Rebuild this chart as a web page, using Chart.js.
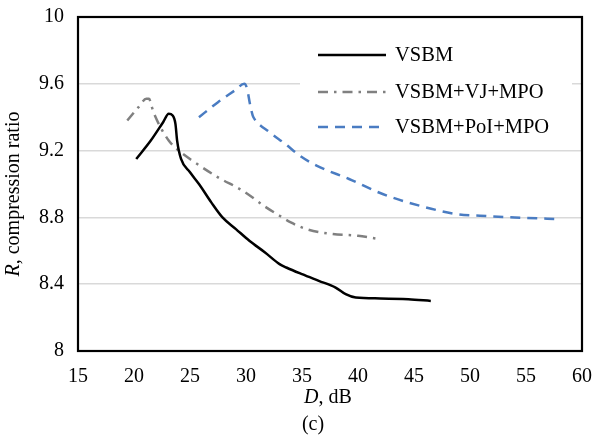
<!DOCTYPE html>
<html>
<head>
<meta charset="utf-8">
<script src="https://cdn.jsdelivr.net/npm/chart.js@4/dist/chart.umd.min.js"></script>
<style>
  html, body { margin: 0; padding: 0; background: #fff; }
  #wrap { width: 594px; height: 439px; position: relative; }
</style>
</head>
<body>
<div id="wrap"><canvas id="chart" width="594" height="439"></canvas></div>
<script>
// values (D in dB, R compression ratio)
const seriesNames = ['VSBM', 'VSBM+VJ+MPO', 'VSBM+PoI+MPO'];

const vsbmD = [20.2, 21.5, 22.6, 23.1, 23.45, 23.7, 23.85, 24.2, 25.0, 25.8, 26.9, 27.9, 29.1, 30.3, 31.7, 33.0, 33.6, 35.0, 36.5, 38.0, 38.9, 39.8, 42.0, 44.5, 46.5];
const vsbmR = [9.15, 9.26, 9.37, 9.42, 9.41, 9.36, 9.26, 9.15, 9.07, 9.0, 8.89, 8.80, 8.73, 8.66, 8.59, 8.52, 8.50, 8.46, 8.42, 8.38, 8.34, 8.32, 8.315, 8.31, 8.30];

const vjD = [19.4, 20.4, 21.1, 21.35, 21.55, 21.8, 23.1, 24.0, 25.2, 27.5, 29.7, 31.8, 33.0, 34.0, 35.4, 37.75, 40.0, 41.9];
const vjR = [9.38, 9.46, 9.51, 9.51, 9.47, 9.42, 9.26, 9.20, 9.14, 9.04, 8.96, 8.86, 8.81, 8.77, 8.73, 8.70, 8.69, 8.67];

const poiD = [25.8, 27.5, 29.0, 29.85, 30.1, 30.35, 30.6, 30.75, 32.1, 33.5, 34.8, 36.3, 39.2, 42.2, 45.5, 48.8, 50.9, 54.0, 57.7];
const poiR = [9.40, 9.49, 9.56, 9.60, 9.57, 9.48, 9.41, 9.39, 9.31, 9.24, 9.17, 9.11, 9.03, 8.94, 8.87, 8.82, 8.81, 8.80, 8.79];

const xTicks = [15, 20, 25, 30, 35, 40, 45, 50, 55, 60];
const yTicks = [8, 8.4, 8.8, 9.2, 9.6, 10];

const toPoints = (xs, ys) => xs.map((x, i) => ({ x: x, y: ys[i] }));

const serif = '"Liberation Serif", "Times New Roman", serif';

// legend inside the plot, drawn from dataset styles
const insideLegend = {
  id: 'insideLegend',
  afterDatasetsDraw(chart) {
    const ctx = chart.ctx;
    ctx.save();
    ctx.fillStyle = '#fff';
    ctx.fillRect(300, 30, 272, 112);
    const rows = [55, 92, 127];
    chart.data.datasets.forEach((ds, i) => {
      ctx.beginPath();
      ctx.strokeStyle = ds.borderColor;
      ctx.lineWidth = ds.borderWidth;
      ctx.setLineDash(ds.borderDash || []);
      ctx.moveTo(318, rows[i]);
      ctx.lineTo(386, rows[i]);
      ctx.stroke();
      ctx.setLineDash([]);
      ctx.fillStyle = '#000';
      ctx.font = '20.5px ' + serif;
      ctx.textBaseline = 'middle';
      ctx.textAlign = 'left';
      ctx.fillText(ds.label, 395, rows[i] + 1);
    });
    ctx.restore();
  }
};

// black frame + axis titles with italic letters
const frameAndTitles = {
  id: 'frameAndTitles',
  afterDraw(chart) {
    const ctx = chart.ctx;
    const a = chart.chartArea;
    ctx.save();
    ctx.strokeStyle = '#000';
    ctx.lineWidth = 2.2;
    ctx.strokeRect(a.left, a.top, a.right - a.left, a.bottom - a.top);

    ctx.fillStyle = '#000';
    ctx.textBaseline = 'middle';

    function mixed(parts, cx, cy) {
      let w = 0;
      parts.forEach(p => { ctx.font = p[1] + ' 20px ' + serif; w += ctx.measureText(p[0]).width; });
      let x = cx - w / 2;
      ctx.textAlign = 'left';
      parts.forEach(p => {
        ctx.font = p[1] + ' 20px ' + serif;
        ctx.fillText(p[0], x, cy);
        x += ctx.measureText(p[0]).width;
      });
    }

    mixed([['D', 'italic'], [', dB', 'normal']], 328, 398);
    mixed([['(c)', 'normal']], 313, 425);

    ctx.translate(14, 194);
    ctx.rotate(-Math.PI / 2);
    mixed([['R', 'italic'], [', compression ratio', 'normal']], 0, 0);
    ctx.restore();
  }
};

new Chart(document.getElementById('chart'), {
  type: 'scatter',
  data: {
    datasets: [
      {
        label: seriesNames[0],
        data: toPoints(vsbmD, vsbmR),
        showLine: true,
        borderColor: '#000000',
        borderWidth: 2.5,
        pointRadius: 0,
        cubicInterpolationMode: 'monotone'
      },
      {
        label: seriesNames[1],
        data: toPoints(vjD, vjR),
        showLine: true,
        borderColor: '#808080',
        borderWidth: 2.5,
        borderDash: [10, 6, 2.5, 6],
        pointRadius: 0,
        cubicInterpolationMode: 'monotone'
      },
      {
        label: seriesNames[2],
        data: toPoints(poiD, poiR),
        showLine: true,
        borderColor: '#4a7cc2',
        borderWidth: 2.5,
        borderDash: [10, 7],
        pointRadius: 0,
        cubicInterpolationMode: 'monotone'
      }
    ]
  },
  options: {
    responsive: false,
    animation: false,
    layout: { padding: { top: 17, right: 12, left: 0, bottom: 0 } },
    plugins: {
      legend: { display: false },
      tooltip: { enabled: false }
    },
    scales: {
      x: {
        type: 'linear',
        min: 15,
        max: 60,
        afterFit: (s) => { s.height = 88; s.paddingLeft = 0; s.paddingRight = 0; },
        afterBuildTicks: (s) => { s.ticks = xTicks.map(v => ({ value: v })); },
        grid: { display: false, drawTicks: false },
        border: { display: false },
        ticks: {
          color: '#000',
          padding: 14,
          font: { family: serif, size: 20 },
          maxRotation: 0
        }
      },
      y: {
        min: 8,
        max: 10,
        afterFit: (s) => { s.width = 78; s.paddingTop = 0; s.paddingBottom = 0; },
        afterBuildTicks: (s) => { s.ticks = yTicks.map(v => ({ value: v })); },
        grid: { color: '#d9d9d9', lineWidth: 1.5, drawTicks: false },
        border: { display: false },
        ticks: {
          color: '#000',
          padding: 14,
          font: { family: serif, size: 20 },
          callback: (v) => (v === 8 || v === 10) ? String(v) : v.toFixed(1)
        }
      }
    }
  },
  plugins: [insideLegend, frameAndTitles]
});
</script>
</body>
</html>
